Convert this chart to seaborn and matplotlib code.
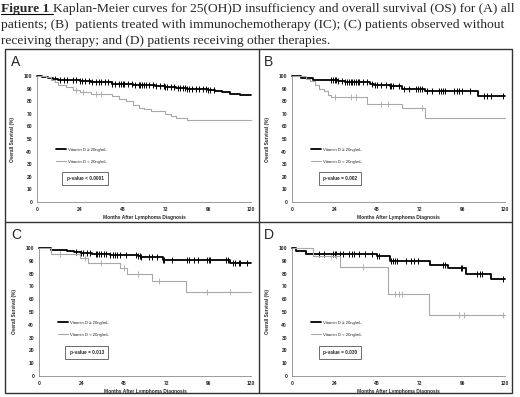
import numpy as np
import pandas as pd
import seaborn as sns
import matplotlib.pyplot as plt
from matplotlib.patches import Rectangle
from matplotlib.lines import Line2D

sns.set_style('white')
plt.rcParams['font.family'] = ['Liberation Sans', 'DejaVu Sans']

# Kaplan-Meier curves (months, overall survival %)
A_hi_t = [0, 3, 6, 9, 12, 18, 24, 30, 36, 42, 48, 54, 60, 66, 72, 78, 84, 90, 96, 100, 104, 108, 114, 120]
A_hi_s = [100, 99.5, 98.5, 97.5, 97, 96.5, 96, 95.5, 95, 94, 93.5, 93, 92.5, 92, 91, 90.5, 90, 89.5, 89, 88, 87, 86, 85, 85]
A_hi_cens = [10, 13, 15, 17, 20, 22, 24, 25, 27, 29, 31, 33, 35, 36, 38, 40, 42, 44, 46, 47, 48, 49, 51, 53, 55,
             57, 58, 59, 60, 61, 63, 65, 67, 69, 71, 72, 73, 75, 77, 79, 80, 82, 83, 84, 85, 87, 89, 91, 93, 95, 96, 97, 99]
A_lo_t = [0, 5, 8, 10, 12, 16, 20, 24, 30, 36, 42, 46, 50, 54, 57, 60, 64, 68, 72, 75, 78, 84, 120]
A_lo_s = [100, 99, 97, 95, 93, 91, 89, 87.5, 86, 85.5, 84, 82, 80, 77, 75, 74, 72, 72, 70, 68, 67, 65, 65]
A_lo_cens = [22, 26, 33, 36]

B_hi_t = [0, 5, 12, 26, 30, 44, 46, 55, 62, 75, 105, 120]
B_hi_s = [100, 98.5, 97, 96, 95, 94, 93, 92, 89.5, 88, 84, 84]
B_hi_cens = [22, 23, 24, 25, 26, 28, 30, 31, 32, 33, 34, 35, 36, 37, 38, 40, 42, 45, 47, 48, 50, 53, 55, 56, 57,
             60, 63, 66, 70, 71, 72, 73, 76, 79, 83, 84, 85, 86, 91, 93, 94, 96, 100, 108, 110, 112, 119]
B_lo_t = [0, 8, 10, 13, 15, 18, 20, 22, 40, 42, 60, 62, 74, 75, 120]
B_lo_s = [100, 98, 96, 93, 90, 88, 85, 83, 83, 78, 78, 75, 75, 67, 67]
B_lo_cens = [24, 33, 36, 50, 54, 73]

C_hi_t = [0, 7, 16, 20, 24, 30, 40, 56, 58, 70, 108, 120]
C_hi_s = [100, 98.5, 97.5, 96.5, 96, 95.5, 94.5, 94, 93, 91, 88.5, 88.5]
C_hi_cens = [21, 24, 25, 27, 29, 32, 33, 34, 35, 37, 38, 40, 42, 43, 44, 46, 49, 55, 56, 57, 58, 62, 64, 67, 70,
             71, 75, 84, 85, 88, 90, 95, 96, 97, 106, 107, 110, 111, 113, 114, 118]
C_lo_t = [0, 7, 23, 28, 46, 50, 64, 83, 120]
C_lo_s = [100, 95, 92, 88.5, 84, 80, 74, 66, 66]
C_lo_cens = [12, 26, 35, 48, 56, 68, 95, 108]

D_hi_t = [0, 2, 8, 48, 55, 78, 88, 98, 112, 120]
D_hi_s = [100, 97.5, 95, 93.5, 90, 87, 84, 80, 76, 76]
D_hi_cens = [15, 18, 23, 24, 25, 27, 29, 32, 34, 35, 38, 41, 45, 48, 49, 56, 57, 58, 59, 64, 67, 69, 71, 85, 86,
             95, 96, 104, 106, 107, 119]
D_lo_t = [0, 12, 27, 54, 77, 120]
D_lo_s = [100, 94, 85, 64, 48, 48]
D_lo_cens = [22, 25, 40, 58, 60, 62, 94, 97, 119]

panels = ['A', 'B', 'C', 'D']
p_values = ['p-value < 0.0001', 'p-value = 0.002', 'p-value = 0.013', 'p-value = 0.030']
curves = {
    'A': (A_hi_t, A_hi_s, A_hi_cens, A_lo_t, A_lo_s, A_lo_cens),
    'B': (B_hi_t, B_hi_s, B_hi_cens, B_lo_t, B_lo_s, B_lo_cens),
    'C': (C_hi_t, C_hi_s, C_hi_cens, C_lo_t, C_lo_s, C_lo_cens),
    'D': (D_hi_t, D_hi_s, D_hi_cens, D_lo_t, D_lo_s, D_lo_cens),
}
hi_label = 'Vitamin D \u2265 20ng/mL'
lo_label = 'Vitamin D < 20ng/mL'
grey = '#a8a8a8'

W, H = 520, 397
fig = plt.figure(figsize=(W / 100, H / 100), dpi=100)


def px(x0, y0, x1, y1):
    # pixel box (from top-left) -> figure fraction rect
    return [x0 / W, 1 - y1 / H, (x1 - x0) / W, (y1 - y0) / H]


boxes = {'A': px(37, 76, 251, 202), 'B': px(292, 76, 505, 202),
         'C': px(39, 248, 251, 376), 'D': px(292, 248, 505, 376)}
letter_pos = {'A': (11, 55), 'B': (264, 55), 'C': (11, 228), 'D': (264, 228)}


def step_at(t, s, c):
    idx = np.searchsorted(t, c, side='right') - 1
    return np.asarray(s)[idx]


for name, pv in zip(panels, p_values):
    hi_t, hi_s, hi_c, lo_t, lo_s, lo_c = curves[name]
    ax = fig.add_axes(boxes[name])
    hi = pd.DataFrame({'t': hi_t, 's': hi_s})
    lo = pd.DataFrame({'t': lo_t, 's': lo_s})
    sns.lineplot(data=hi, x='t', y='s', drawstyle='steps-post', color='black', lw=1.3,
                 estimator=None, label=hi_label, ax=ax)
    sns.lineplot(data=lo, x='t', y='s', drawstyle='steps-post', color=grey, lw=0.8,
                 estimator=None, label=lo_label, ax=ax)
    sns.scatterplot(x=hi_c, y=step_at(hi_t, hi_s, hi_c), marker='|', s=24, color='black',
                    linewidth=0.7, ax=ax, legend=False)
    sns.scatterplot(x=lo_c, y=step_at(lo_t, lo_s, lo_c), marker='|', s=14, color=grey,
                    linewidth=0.6, ax=ax, legend=False)
    for ln in ax.lines:
        ln.set_clip_on(False)

    ax.set_xlim(0, 120)
    ax.set_ylim(0, 100)
    ax.set_xticks(range(0, 121, 24))
    ax.set_yticks(range(0, 101, 10))
    sns.despine(ax=ax)
    for sp in ['left', 'bottom']:
        ax.spines[sp].set_color('#8a8a8a')
        ax.spines[sp].set_linewidth(0.6)
    ax.tick_params(labelsize=3.6, length=2, width=0.5, color='#8a8a8a', pad=1.5)
    for lab in ax.get_xticklabels() + ax.get_yticklabels():
        lab.set_fontweight('bold')
    ax.set_xlabel('Months After Lymphoma Diagnosis', fontsize=3.5, fontweight='bold', labelpad=2)
    ax.set_ylabel('Overall Survival (%)', fontsize=3.4, fontweight='bold', labelpad=6)

    ax.legend(loc='upper left', bbox_to_anchor=(0.09, 0.43), frameon=False, fontsize=3.1,
              handlelength=2.2, handletextpad=0.5, labelspacing=1.8, borderpad=0, borderaxespad=0)
    ax.text(27, 18.5, pv, fontsize=3.4, fontweight='bold', ha='center', va='center',
            bbox=dict(boxstyle='square,pad=0.9', fc='white', ec='#555555', lw=0.6))

    lx, ly = letter_pos[name]
    fig.text(lx / W, 1 - ly / H, name, fontsize=10, ha='left', va='top')

# table borders
fig.add_artist(Rectangle((5 / W, 1 - 393 / H), 507 / W, 344 / H, transform=fig.transFigure,
                         fill=False, ec='#333333', lw=1.0))
fig.add_artist(Line2D([259 / W, 259 / W], [1 - 49 / H, 1 - 393 / H], transform=fig.transFigure,
                      color='#333333', lw=1.0))
fig.add_artist(Line2D([5 / W, 512 / W], [1 - 222 / H, 1 - 222 / H], transform=fig.transFigure,
                      color='#333333', lw=1.0))

# caption
serif = ['Liberation Serif', 'DejaVu Serif']
fs = 9.7
head = fig.text(1 / W, 1 - 12 / H, 'Figure 1 ', fontsize=fs, fontweight='bold', family=serif,
                va='baseline')
fig.canvas.draw()
bb = head.get_window_extent().transformed(fig.transFigure.inverted())
fig.add_artist(Line2D([bb.x0, bb.x1], [1 - 14 / H, 1 - 14 / H], transform=fig.transFigure,
                      color='black', lw=0.8))
fig.text(bb.x1, 1 - 12 / H,
         'Kaplan-Meier curves for 25(OH)D insufficiency and overall survival (OS) for (A) all',
         fontsize=fs, family=serif, va='baseline')
fig.text(1 / W, 1 - 28 / H,
         'patients; (B)  patients treated with immunochemotherapy (IC); (C) patients observed without',
         fontsize=fs, family=serif, va='baseline')
fig.text(1 / W, 1 - 44 / H, 'receiving therapy; and (D) patients receiving other therapies.',
         fontsize=fs, family=serif, va='baseline')

fig.savefig('out.png', dpi=100)
